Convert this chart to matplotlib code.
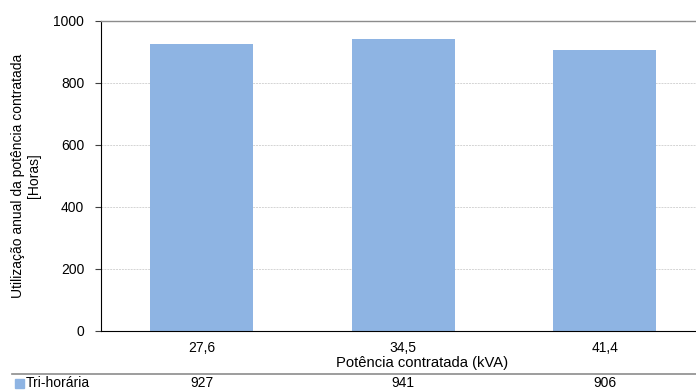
import matplotlib
matplotlib.use("Agg")
import matplotlib.pyplot as plt
from matplotlib.lines import Line2D
from matplotlib.patches import Rectangle
import matplotlib.transforms as mtransforms

# data
categories = ["27,6", "34,5", "41,4"]
values = [927, 941, 906]
series_name = "Tri-horária"
y_ticks = [0, 200, 400, 600, 800, 1000]

BAR = "#8EB4E3"
plt.rcParams["font.family"] = ["Liberation Sans", "DejaVu Sans"]
plt.rcParams["font.size"] = 10

W, H = 696, 390
fig = plt.figure(figsize=(W / 100, H / 100), dpi=100)
# plot area runs past the right edge of the picture (cropped chart)
ax = fig.add_axes([101 / W, (H - 331) / H, 604.5 / W, 310 / H])

x = list(range(len(categories)))
ax.bar(x, values, width=0.51, color=BAR, zorder=2)

ax.set_xlim(-0.5, len(categories) - 0.5)
ax.set_ylim(0, 1000)
ax.set_yticks(y_ticks)
ax.set_xticks(x)
ax.set_xticklabels(categories)
ax.tick_params(axis="y", length=4, width=0.8, pad=8, color="#404040")
ax.tick_params(axis="x", length=0, pad=7)
ax.yaxis.grid(True, color="#d4d4d4", linestyle=(0, (2, 1)), linewidth=0.7, zorder=0)

ax.spines["right"].set_visible(False)
ax.spines["top"].set_color("#8c8c8c")
ax.spines["top"].set_linewidth(1.0)
ax.spines["left"].set_color("black")
ax.spines["bottom"].set_color("black")

fig.text(26 / W, 1 - 176 / H, "Utilização anual da potência contratada\n[Horas]",
         rotation=90, ha="center", va="center", linespacing=1.1)
fig.text(422 / W, 1 - 363 / H, "Potência contratada (kVA)",
         ha="center", va="center", fontsize=10.6)

# data table row
fig.add_artist(Line2D([12 / W, 1.0], [1 - 373.5 / H] * 2, color="#8c8c8c", linewidth=1.2))
trans = mtransforms.blended_transform_factory(ax.transData, fig.transFigure)
for xi, v in zip(x, values):
    ax.text(xi, 1 - 383 / H, f"{v}", transform=trans, ha="center", va="center",
            clip_on=False)
fig.add_artist(Rectangle((15 / W, 1 - 388 / H), 9 / W, 9 / H, color=BAR,
                         transform=fig.transFigure))
fig.text(26 / W, 1 - 383 / H, series_name, ha="left", va="center")

fig.savefig("out.png", dpi=100)
